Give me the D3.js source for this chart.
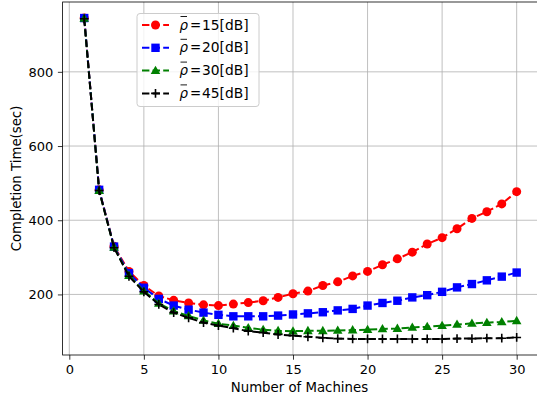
<!DOCTYPE html>
<html>
<head>
<meta charset="utf-8">
<script src="https://cdn.jsdelivr.net/npm/d3@7"></script>
<style>
  body { margin: 0; background: #fff; }
  svg { display: block; font-family: "DejaVu Sans", sans-serif; }
</style>
</head>
<body>
<svg id="chart" width="537" height="400"></svg>
<script>
// number of machines
const machines = [1, 2, 3, 4, 5, 6, 7, 8, 9, 10, 11, 12, 13, 14, 15,
  16, 17, 18, 19, 20, 21, 22, 23, 24, 25, 26, 27, 28, 29, 30];

// completion time (sec) per average SNR
const time15 = [945, 482, 330, 262, 224, 196, 184, 177, 172, 170, 174, 178, 183, 192, 202,
  209, 224, 234, 250, 262, 280, 296, 314, 336, 353, 377, 405, 423, 444, 477];
const time20 = [945, 482, 329, 257, 218, 188, 170, 159, 151, 145, 141, 141, 141, 143, 146,
  149, 152, 157, 161, 170, 177, 183, 192, 198, 207, 219, 228, 238, 248, 259];
const time30 = [944, 480, 327, 251, 209, 176, 155, 142, 130, 121, 116, 110, 105, 102, 101,
  102, 102, 103, 104, 105, 107, 108, 111, 113, 116, 119, 122, 124, 126, 129];
const time45 = [943, 480, 326, 249, 207, 173, 151, 137, 124, 116, 109, 101, 97, 92, 89,
  86, 83, 81, 80, 80, 80, 80, 80, 80, 80, 81, 81, 82, 82, 84];

const snrLabels = ["15", "20", "30", "45"];
const xTicks = [0, 5, 10, 15, 20, 25, 30];
const yTicks = [200, 400, 600, 800];

const series = [
  { snr: snrLabels[0], values: time15, color: "#ff0000", marker: "circle" },
  { snr: snrLabels[1], values: time20, color: "#0000ff", marker: "square" },
  { snr: snrLabels[2], values: time30, color: "#008000", marker: "triangle" },
  { snr: snrLabels[3], values: time45, color: "#000000", marker: "plus" }
];

const plot = { left: 62.6, right: 538.3, top: 2, bottom: 355 };
const svg = d3.select("#chart");

// matplotlib-like 5% margins
const xExt = d3.extent(machines);
const xPad = (xExt[1] - xExt[0]) * 0.05;
const allY = series.flatMap(s => s.values);
const yExt = d3.extent(allY);
const yPad = (yExt[1] - yExt[0]) * 0.05;

const x = d3.scaleLinear().domain([xExt[0] - xPad, xExt[1] + xPad]).range([plot.left, plot.right]);
const y = d3.scaleLinear().domain([yExt[0] - yPad, yExt[1] + yPad]).range([plot.bottom, plot.top]);

// grid
const grid = svg.append("g").attr("stroke", "#b0b0b0").attr("stroke-width", 0.8);
grid.selectAll(".gx").data(xTicks).join("line")
  .attr("x1", d => x(d)).attr("x2", d => x(d))
  .attr("y1", plot.top).attr("y2", plot.bottom);
grid.selectAll(".gy").data(yTicks).join("line")
  .attr("x1", plot.left).attr("x2", plot.right)
  .attr("y1", d => y(d)).attr("y2", d => y(d));

// axes
const xAxis = svg.append("g")
  .attr("transform", `translate(0,${plot.bottom})`)
  .call(d3.axisBottom(x).tickValues(xTicks).tickSize(4.7).tickPadding(4.7).tickSizeOuter(0));
const yAxis = svg.append("g")
  .attr("transform", `translate(${plot.left},0)`)
  .call(d3.axisLeft(y).tickValues(yTicks).tickSize(4.7).tickPadding(4.7).tickSizeOuter(0));
[xAxis, yAxis].forEach(a => {
  a.select(".domain").remove();
  a.selectAll("line").attr("stroke", "#000").attr("stroke-width", 0.8);
  a.selectAll("text").attr("font-size", 13).attr("fill", "#000")
    .attr("font-family", "DejaVu Sans, sans-serif");
});

// spines
svg.append("rect")
  .attr("x", plot.left).attr("y", plot.top)
  .attr("width", plot.right - plot.left).attr("height", plot.bottom - plot.top)
  .attr("fill", "none").attr("stroke", "#000").attr("stroke-width", 0.8);

// axis labels
svg.append("text")
  .attr("x", (plot.left + plot.right) / 2 - 1).attr("y", 392)
  .attr("text-anchor", "middle").attr("font-size", 13.3)
  .text("Number of Machines");
svg.append("text")
  .attr("transform", `translate(21,${(plot.top + plot.bottom) / 2}) rotate(-90)`)
  .attr("text-anchor", "middle").attr("font-size", 13.3)
  .text("Completion Time(sec)");

function drawMarker(g, type, color) {
  if (type === "circle") {
    g.append("circle").attr("r", 4.5).attr("fill", color);
  } else if (type === "square") {
    g.append("rect").attr("x", -4.2).attr("y", -4.2).attr("width", 8.4).attr("height", 8.4).attr("fill", color);
  } else if (type === "triangle") {
    g.append("path").attr("d", d3.symbol(d3.symbolTriangle, 40)()).attr("fill", color)
      .attr("transform", "translate(0,0.6)");
  } else {
    g.append("path").attr("d", "M-4.4,0H4.4M0,-4.4V4.4")
      .attr("stroke", color).attr("stroke-width", 1.6).attr("fill", "none");
  }
}

const line = d3.line().x((d, i) => x(machines[i])).y(d => y(d));
svg.append("clipPath").attr("id", "clip").append("rect")
  .attr("x", plot.left).attr("y", plot.top)
  .attr("width", plot.right - plot.left).attr("height", plot.bottom - plot.top);

series.forEach(s => {
  const g = svg.append("g").attr("clip-path", "url(#clip)");
  g.append("path")
    .attr("d", line(s.values))
    .attr("fill", "none").attr("stroke", s.color)
    .attr("stroke-width", 2).attr("stroke-dasharray", "7.4,3.2");
  g.selectAll(".m").data(s.values).join("g")
    .attr("transform", (d, i) => `translate(${x(machines[i])},${y(d)})`)
    .each(function () { drawMarker(d3.select(this), s.marker, s.color); });
});

// legend
const legend = svg.append("g");
legend.append("rect")
  .attr("x", 137).attr("y", 13.5).attr("width", 122).attr("height", 93)
  .attr("rx", 3).attr("fill", "#fff").attr("fill-opacity", 0.8)
  .attr("stroke", "#cccccc").attr("stroke-width", 1);
series.forEach((s, i) => {
  const cy = 25 + i * 22.8;
  const item = legend.append("g").attr("transform", `translate(0,${cy})`);
  item.append("line").attr("x1", 142).attr("x2", 169).attr("y1", 0).attr("y2", 0)
    .attr("stroke", s.color).attr("stroke-width", 2).attr("stroke-dasharray", "7.4,3.2");
  drawMarker(item.append("g").attr("transform", "translate(155.5,0)"), s.marker, s.color);
  item.append("line").attr("x1", 180.5).attr("x2", 187).attr("y1", -8.5).attr("y2", -8.5)
    .attr("stroke", "#000").attr("stroke-width", 0.9);
  const t = item.append("text").attr("y", 4.6).attr("font-size", 13.3);
  t.append("tspan").attr("x", 179.5).attr("font-style", "italic").text("ρ");
  t.append("tspan").attr("x", 190).text("=");
  t.append("tspan").attr("x", 202).attr("font-size", 13.8).text(s.snr + "[dB]");
});
</script>
</body>
</html>
